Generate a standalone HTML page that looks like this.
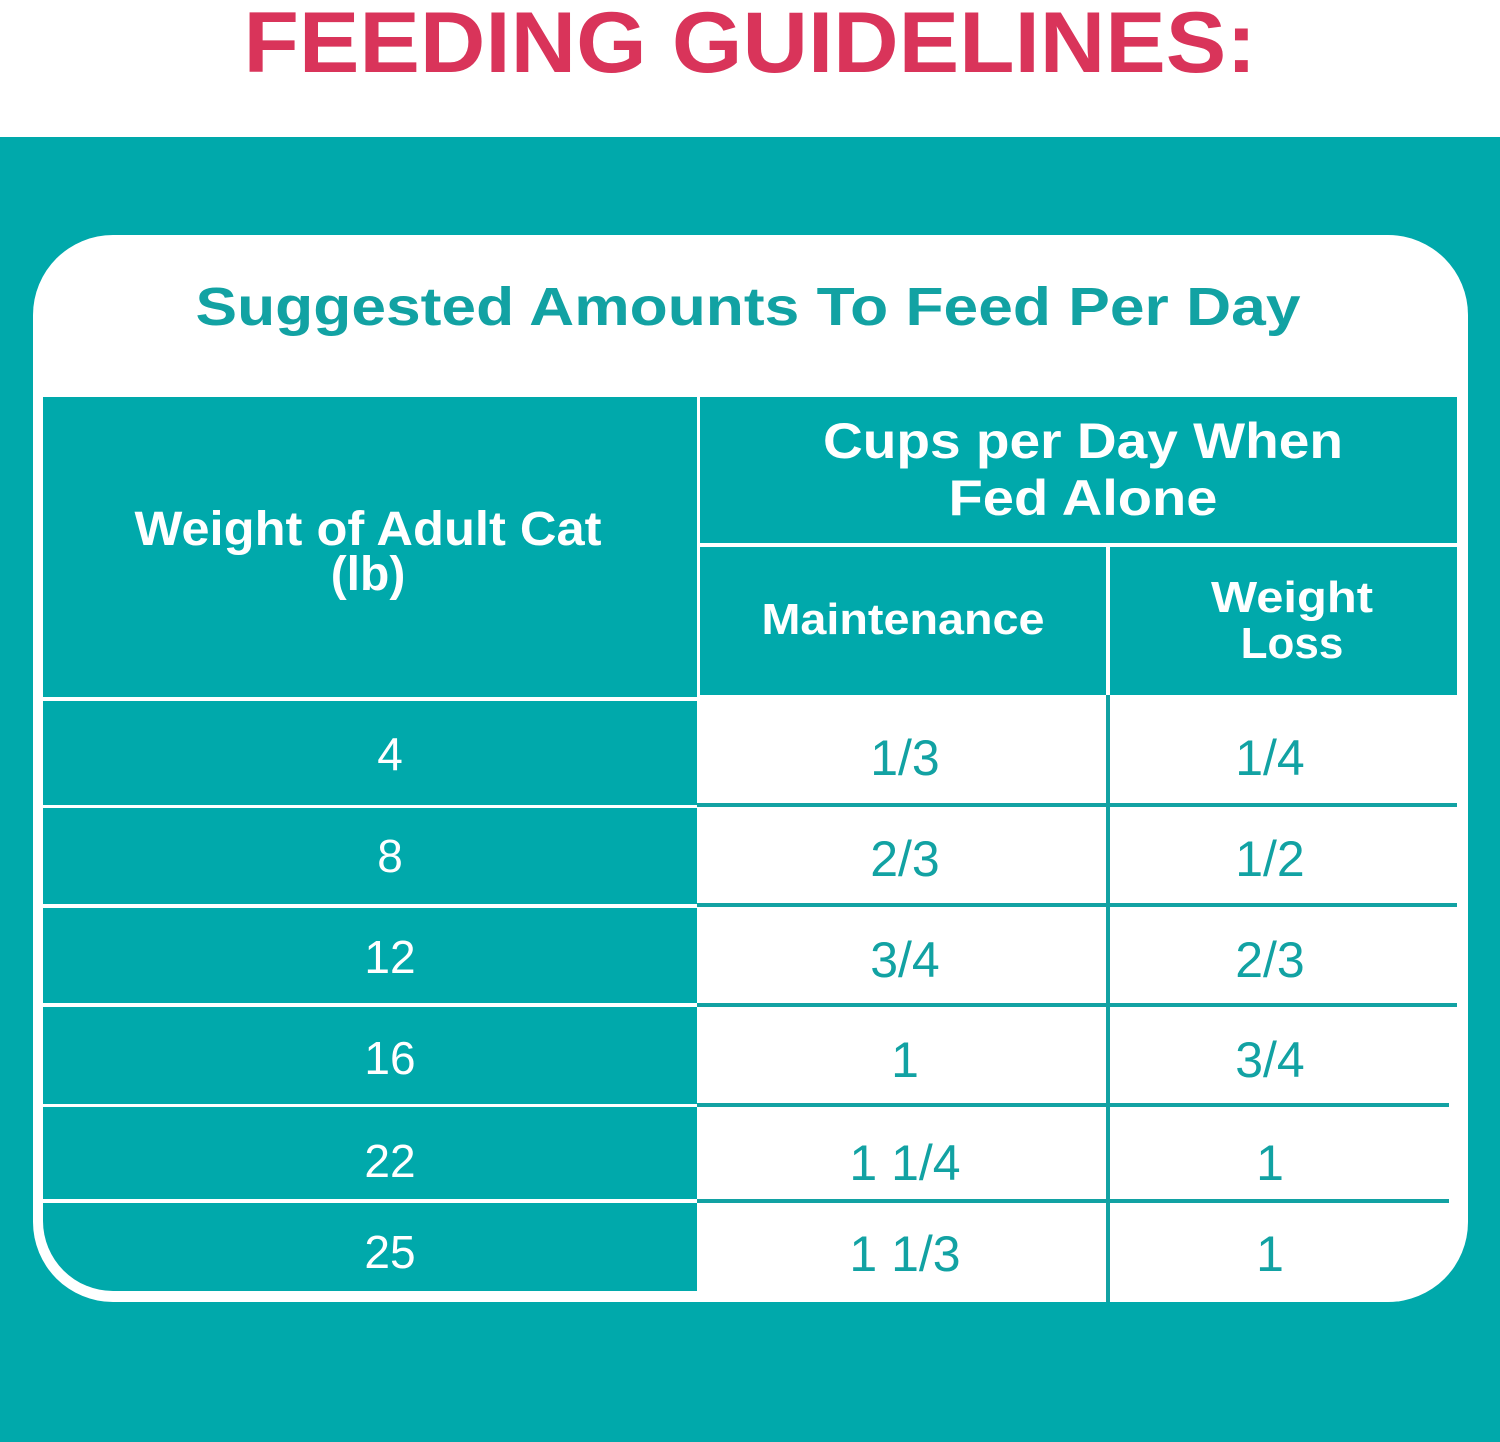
<!DOCTYPE html>
<html><head><meta charset="utf-8"><style>html,body{margin:0;padding:0;background:#fff}svg{display:block}</style></head><body>
<svg width="1500" height="1442" viewBox="0 0 1500 1442" xmlns="http://www.w3.org/2000/svg" font-family="'Liberation Sans', sans-serif">
<defs><clipPath id="c"><rect x="43" y="200" width="1414" height="1091" rx="70"/></clipPath></defs>
<rect width="1500" height="1442" fill="#fff"/>
<text x="750" y="72" text-anchor="middle" font-size="86" font-weight="bold" fill="#d9345a" textLength="1013" lengthAdjust="spacingAndGlyphs">FEEDING GUIDELINES:</text>
<rect x="0" y="137" width="1500" height="1305" fill="#00a9ab"/>
<rect x="33" y="235" width="1435" height="1067" rx="80" fill="#fff"/>
<text x="748" y="325" text-anchor="middle" font-size="54" font-weight="bold" fill="#12a2a3" textLength="1105" lengthAdjust="spacingAndGlyphs">Suggested Amounts To Feed Per Day</text>
<g clip-path="url(#c)" fill="#00a9ab">
<rect x="43" y="397" width="654" height="300"/>
<rect x="43" y="701" width="654" height="104"/>
<rect x="43" y="808" width="654" height="96"/>
<rect x="43" y="908" width="654" height="95"/>
<rect x="43" y="1007" width="654" height="97"/>
<rect x="43" y="1107" width="654" height="92"/>
<rect x="43" y="1203" width="654" height="90"/>
</g>
<rect x="700" y="397" width="757" height="146" fill="#00a9ab"/>
<rect x="700" y="547" width="406" height="148" fill="#00a9ab"/>
<rect x="1110" y="547" width="347" height="148" fill="#00a9ab"/>
<g fill="#12a2a3">
<rect x="1106" y="695" width="4" height="607"/>
<rect x="697" y="803" width="760" height="4"/>
<rect x="697" y="903" width="760" height="4"/>
<rect x="697" y="1003" width="760" height="4"/>
<rect x="697" y="1103" width="752" height="4"/>
<rect x="697" y="1199" width="752" height="4"/>
</g>
<g fill="#fff" font-weight="bold" text-anchor="middle">
<text x="1083" y="458" font-size="50" textLength="520" lengthAdjust="spacingAndGlyphs">Cups per Day When</text>
<text x="1083" y="515" font-size="50" textLength="269" lengthAdjust="spacingAndGlyphs">Fed Alone</text>
<text x="368" y="545" font-size="48" textLength="467" lengthAdjust="spacingAndGlyphs">Weight of Adult Cat</text>
<text x="368" y="590" font-size="48">(lb)</text>
<text x="903" y="634" font-size="44" textLength="283" lengthAdjust="spacingAndGlyphs">Maintenance</text>
<text x="1292" y="612" font-size="44" textLength="162" lengthAdjust="spacingAndGlyphs">Weight</text>
<text x="1292" y="658" font-size="44">Loss</text>
</g>
<g fill="#fff" font-size="46" text-anchor="middle">
<text x="390" y="770">4</text><text x="390" y="872">8</text><text x="390" y="973">12</text>
<text x="390" y="1074">16</text><text x="390" y="1177">22</text><text x="390" y="1268">25</text>
</g>
<g fill="#12a2a3" font-size="50" text-anchor="middle">
<text x="905" y="775">1/3</text><text x="1270" y="775">1/4</text>
<text x="905" y="876">2/3</text><text x="1270" y="876">1/2</text>
<text x="905" y="977">3/4</text><text x="1270" y="977">2/3</text>
<text x="905" y="1077">1</text><text x="1270" y="1077">3/4</text>
<text x="905" y="1180">1 1/4</text><text x="1270" y="1180">1</text>
<text x="905" y="1271">1 1/3</text><text x="1270" y="1271">1</text>
</g>
</svg>
</body></html>
